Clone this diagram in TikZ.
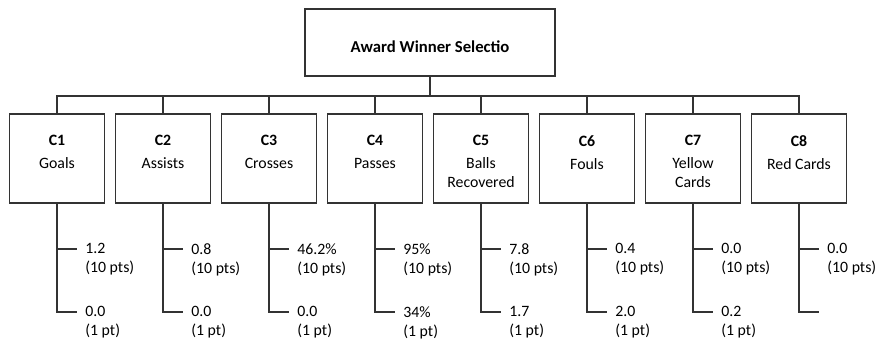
\documentclass[tikz,border=0pt]{standalone}
\usepackage{fontspec}
\setmainfont{Carlito}
\usepackage{tikz}

\tikzset{
    link/.style={draw=black!80,line width=0.9pt},
    topbox/.style={link,minimum width=5cm,minimum height=1.34cm,inner sep=0pt},
    toptext/.style={inner sep=0pt,font=\fontsize{9.5}{11}\selectfont\bfseries},
    critbox/.style={link,minimum width=1.9cm,minimum height=1.78cm,inner sep=0pt},
    crittext/.style={anchor=north,align=center,inner sep=0pt,
        font=\fontsize{9}{10.6}\selectfont},
    val/.style={anchor=west,align=left,inner sep=0pt,
        font=\fontsize{9}{10.8}\selectfont}
}

\begin{document}
\begin{tikzpicture}[x=0.02cm,y=-0.02cm]
    \useasboundingbox (0,0) rectangle (877,340);

    \node[topbox] (award) at (430,42.5) {};
    \node[toptext] (awardtext) at (430,46.5) {Award Winner Selectio};

    \foreach \i/\name/\hi/\lo in {%
        1/Goals/1.2/{0.0\\(1 pt)},
        2/Assists/0.8/{0.0\\(1 pt)},
        3/Crosses/46.2\%/{0.0\\(1 pt)},
        4/Passes/95\%/{34\%\\(1 pt)},
        5/{Balls\\Recovered}/7.8/{1.7\\(1 pt)},
        6/Fouls/0.4/{2.0\\(1 pt)},
        7/{Yellow\\Cards}/0.0/{0.2\\(1 pt)},
        8/Red Cards/0.0/{}}
    {
        \pgfmathsetmacro{\x}{57+106*(\i-1)}
        \node[critbox] (c\i) at (\x,158.5) {};
        \node[crittext] (t\i) at (\x,135) {\textbf{C\i}\\[2.5pt]\name};
        \draw[link] (award.south) -- ++(0,19) -| (c\i.north);

        \coordinate (h\i) at (\x+20,249);
        \coordinate (l\i) at (\x+20,312);
        \draw[link] (c\i.south) |- (h\i);
        \draw[link] (c\i.south) |- (l\i);
        \node[val] (hv\i) at (\x+28,259.5) {\hi\\(10 pts)};
        \node[val] (lv\i) at (\x+28,322.5) {\lo};
    }
\end{tikzpicture}
\end{document}
